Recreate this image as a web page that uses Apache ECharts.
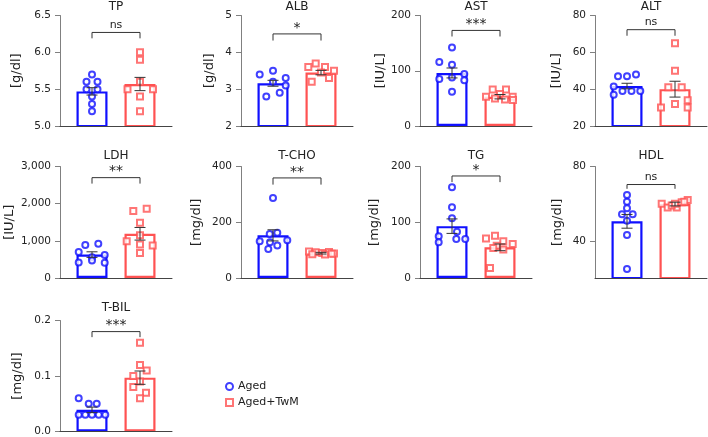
<!DOCTYPE html>
<html><head><meta charset="utf-8">
<script src="https://cdn.jsdelivr.net/npm/echarts@6/dist/echarts.min.js"></script>
<style>html,body{margin:0;padding:0;background:#fff}#c{width:708px;height:437px}</style>
</head><body><div id="c"></div>
<script>
// ---------------- DATA ----------------
const titles = ['TP', 'ALB', 'AST', 'ALT', 'LDH', 'T-CHO', 'TG', 'HDL', 'T-BIL'];
const units = ['[g/dl]', '[g/dl]', '[IU/L]', '[IU/L]', '[IU/L]', '[mg/dl]', '[mg/dl]', '[mg/dl]', '[mg/dl]'];
const groups = ['Aged', 'Aged+TwM'];
const meanAged = [5.47, 3.16, 96, 41.7, 630, 153, 93, 50.5, 0.039];
const meanTwM  = [5.57, 3.45, 53, 40.0, 1190, 89, 55, 59.8, 0.097];
const semAged  = [0.05, 0.08, 9, 1.5, 75, 20, 13, 3.7, 0.005];
const semTwM   = [0.09, 0.06, 4, 4.3, 170, 3, 6, 1.0, 0.012];
const sigLabels = ['ns', '*', '***', 'ns', '**', '**', '*', 'ns', '***'];
const bracketTop  = [6.27, 4.5, 173, 72.3, 2700, 359, 183, 70.3, 0.18];
const bracketFoot = [6.19, 4.32, 162, 69, 2540, 335, 172, 68, 0.17];
const yMin  = [5.0, 2, 0, 20, 0, 0, 0, 20, 0];
const yMax  = [6.5, 5, 200, 80, 3000, 400, 200, 80, 0.2];
const yStep = [0.5, 1, 100, 20, 1000, 200, 100, 20, 0.1];
const yLabelValues = [null, null, null, null, null, null, null, [40, 80], null];
const yDecimals = [1, 0, 0, 0, 0, 0, 0, 0, 1];

// individual animals
const tpAged   = [5.7, 5.6, 5.6, 5.5, 5.5, 5.4, 5.3, 5.2];
const tpTwM    = [6.0, 5.9, 5.6, 5.5, 5.5, 5.4, 5.2];
const albAged  = [3.4, 3.5, 3.3, 3.2, 3.1, 2.8, 2.9];
const albTwM   = [3.7, 3.6, 3.6, 3.5, 3.3, 3.2, 3.45];
const astAged  = [142, 116, 111, 94, 85, 83, 88, 62];
const astTwM   = [66, 66, 58, 53, 53, 50, 48, 47];
const altAged  = [47, 47, 48, 41.5, 37, 39, 39, 39];
const altTwM   = [65, 50, 41, 41, 34, 30, 32, 30];
const ldhAged  = [890, 920, 700, 620, 560, 420, 470, 410];
const ldhTwM   = [1800, 1865, 1486, 1153, 991, 874, 900, 676];
const tchoAged = [287, 158, 162, 132, 135, 104, 117, 128];
const tchoTwM  = [95, 92, 90, 93, 88, 85, 84, 87];
const tgAged   = [163, 127, 107, 83, 75, 64, 70, 70];
const tgTwM    = [71, 76, 66, 61, 58, 51, 18, 54];
const hdlAged  = [64.6, 61, 57.5, 54.3, 54.3, 50.8, 43.2, 24.9];
const hdlTwM   = [60, 58, 58, 60.7, 62, 59, 60, 61];
const tbilAged = [0.06, 0.05, 0.05, 0.03, 0.03, 0.03, 0.03, 0.03];
const tbilTwM  = [0.16, 0.12, 0.11, 0.10, 0.09, 0.08, 0.07, 0.06];

// ---------------- LAYOUT (horizontal jitter of dots, px) ----------------
const agedDx = [
  [0, -5.5, 5.5, -5.5, 5.5, 0, 0, 0],
  [-13.3, 0, 12.7, 0, 12.7, -6.7, 6.7],
  [0, -12.7, 0, 12.3, -12.7, 12.3, 0, 0],
  [-9, 0, 9, -13.3, -13.3, -4.5, 4.5, 13.3],
  [-6.7, 6.3, -13.3, 12.7, 0, -13.3, 0, 12.7],
  [0, -3.3, 4.3, -13.3, 14.3, -4.7, 4.3, -3],
  [0, 0, 0, 5, -13.3, -13.3, 4.3, 13.3],
  [0, 0, 0, -5, 5.7, 0, 0, 0],
  [-13.3, -3.3, 4.7, -13.3, -6.7, 0, 6.7, 13.3]
];
const twmDx = [
  [0, 0, 0, -12.5, 13, 0, 0],
  [-5.3, -12.7, 4, 13, 8, -9.3, 0],
  [-7.3, 6, 0, -14, 12.7, -5, 5, 13],
  [0, 0, -6.7, 6.7, 12.7, -14, 0, 12.7],
  [-6.7, 6.7, 0, 0, -13.3, 12.7, 0, 0],
  [-12, -5.3, 1.3, 8, 13, -8.7, 4, 10.7],
  [-14, -5, 3.3, 12.7, -3.3, 3.3, -10, -6.7],
  [-13.3, -7.3, 1.7, 6.7, 12.7, -3.3, 0, 9.3],
  [0, 0, 6.7, -6.7, 0, -6.7, 6, 0]
];

const aged = [tpAged, albAged, astAged, altAged, ldhAged, tchoAged, tgAged, hdlAged, tbilAged];
const twm  = [tpTwM, albTwM, astTwM, altTwM, ldhTwM, tchoTwM, tgTwM, hdlTwM, tbilTwM];

const FONT = 'DejaVu Sans';
const BLUE = '#1010ff', RED = '#ff5252', INK = '#333333', YAXIS = '#808080', XAXIS = '#444444';
const colX = [60, 241, 420, 595];
const rowTop = [15.5, 166.5, 320.5];
const rowH = [110.5, 111.5, 111];
const titleY = [7, 156, 308];
const nameGaps = [37, 24.5, 31.5, 31.5, 44, 37.5, 38.5, 30.5, 35.5];
const UNIT = 48, EDGE = 32;

function fmt(v, d) {
  if (d) return v.toFixed(d);
  return String(Math.round(v)).replace(/\B(?=(\d{3})+(?!\d))/g, ',');
}

const grid = [], xAxis = [], yAxis = [], series = [], graphic = [];

titles.forEach((t, i) => {
  const col = i % 4, row = Math.floor(i / 4);
  const left = colX[col];
  const width = EDGE * 2 + UNIT;
  grid.push({ left: left, top: rowTop[row], width: width, height: rowH[row], outerBoundsMode: 'none' });
  graphic.push({ type: 'text', x: left + width / 2, y: titleY[row], silent: true,
    style: { text: t, align: 'center', verticalAlign: 'middle', fontSize: 12, fontFamily: FONT, fill: '#222' } });
  xAxis.push({ gridIndex: i, type: 'value', min: -EDGE / UNIT, max: 1 + EDGE / UNIT, z: 5,
    axisLine: { show: true, onZero: false, lineStyle: { color: XAXIS, width: 1 } },
    axisTick: { show: false }, axisLabel: { show: false }, splitLine: { show: false } });
  const ya = { gridIndex: i, type: 'value', min: yMin[i], max: yMax[i], interval: yStep[i],
    name: units[i], nameLocation: 'middle', nameGap: nameGaps[i],
    nameTextStyle: { fontSize: 13, fontFamily: FONT, color: '#222' },
    axisLine: { show: true, onZero: false, lineStyle: { color: YAXIS, width: 1 } },
    axisTick: { show: true, length: 5, lineStyle: { color: YAXIS } },
    axisLabel: { fontSize: 10.5, fontFamily: FONT, color: '#222', margin: 9,
      formatter: (v) => fmt(v, yDecimals[i]) },
    splitLine: { show: false } };
  if (yLabelValues[i]) {
    ya.axisLabel.customValues = yLabelValues[i];
    ya.axisTick.customValues = yLabelValues[i];
  }
  yAxis.push(ya);

  series.push({ type: 'bar', name: 'mean', xAxisIndex: i, yAxisIndex: i, barWidth: 31, z: 2, silent: true,
    data: [
      { value: [0, meanAged[i]], itemStyle: { color: '#ffffff', borderColor: BLUE, borderWidth: 2.2 } },
      { value: [1, meanTwM[i]], itemStyle: { color: '#ffffff', borderColor: RED, borderWidth: 2.2 } }
    ] });
  series.push({ type: 'scatter', name: groups[0], xAxisIndex: i, yAxisIndex: i, z: 3, silent: true,
    symbol: 'emptyCircle', symbolSize: 6,
    itemStyle: { color: BLUE, borderColor: BLUE, borderWidth: 1.4 },
    data: aged[i].map((v, k) => [agedDx[i][k] / UNIT, v]) });
  series.push({ type: 'scatter', name: groups[1], xAxisIndex: i, yAxisIndex: i, z: 3, silent: true,
    symbol: 'emptyRect', symbolSize: 6,
    itemStyle: { color: RED, borderColor: RED, borderWidth: 1.4 },
    data: twm[i].map((v, k) => [1 + twmDx[i][k] / UNIT, v]) });
  series.push({ type: 'custom', name: 'sem', xAxisIndex: i, yAxisIndex: i, z: 4, silent: true,
    encode: { x: 0, y: 1 },
    data: [[0, meanAged[i], semAged[i]], [1, meanTwM[i], semTwM[i]]],
    renderItem: function (params, api) {
      const x = api.value(0), m = api.value(1), s = api.value(2);
      const a = api.coord([x, m + s]), b = api.coord([x, m - s]);
      const hw = 5.5, st = { stroke: INK, lineWidth: 1 };
      return { type: 'group', children: [
        { type: 'line', shape: { x1: a[0], y1: a[1], x2: b[0], y2: b[1] }, style: st },
        { type: 'line', shape: { x1: a[0] - hw, y1: a[1], x2: a[0] + hw, y2: a[1] }, style: st },
        { type: 'line', shape: { x1: b[0] - hw, y1: b[1], x2: b[0] + hw, y2: b[1] }, style: st }
      ] };
    } });
  series.push({ type: 'custom', name: 'sig', xAxisIndex: i, yAxisIndex: i, z: 4, silent: true,
    encode: { x: 0, y: 1 },
    data: [[0, bracketTop[i]]],
    renderItem: function (params, api) {
      const p0 = api.coord([0, bracketTop[i]]);
      const p1 = api.coord([1, bracketTop[i]]);
      const f = api.coord([0, bracketFoot[i]]);
      const lab = sigLabels[i];
      const isStar = lab.indexOf('*') === 0;
      return { type: 'group', children: [
        { type: 'polyline', shape: { points: [[p0[0], f[1]], [p0[0], p0[1]], [p1[0], p1[1]], [p1[0], f[1]]] },
          style: { stroke: INK, lineWidth: 1, fill: null } },
        { type: 'text', x: (p0[0] + p1[0]) / 2, y: p0[1] - (isStar ? -1 : 2),
          style: { text: lab, align: 'center', verticalAlign: 'bottom', fontSize: isStar ? 14 : 11,
            fontFamily: FONT, fill: '#222' } }
      ] };
    } });
});

const chart = echarts.init(document.getElementById('c'));
chart.setOption({
  animation: false,
  backgroundColor: '#ffffff',
  textStyle: { fontFamily: FONT },
  grid: grid, xAxis: xAxis, yAxis: yAxis, series: series, graphic: graphic,
  legend: { data: groups, orient: 'vertical', left: 225, top: 381, itemWidth: 7, itemHeight: 7,
    itemGap: 5, selectedMode: false, padding: 0,
    textStyle: { fontSize: 11, fontFamily: FONT, color: '#222' } }
});
</script>
</body></html>
